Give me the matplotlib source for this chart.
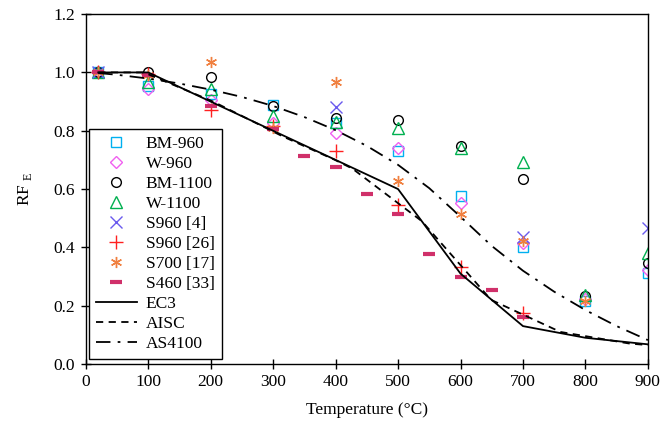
import numpy as np
import matplotlib
matplotlib.use("Agg")
import matplotlib.pyplot as plt

plt.rcParams['font.family'] = ['Liberation Serif', 'DejaVu Serif']
plt.rcParams['mathtext.fontset'] = 'custom'
plt.rcParams['mathtext.rm'] = 'Liberation Serif'

# test temperatures (deg C)
temps = [20, 100, 200, 300, 400, 500, 600, 700, 800, 900]

# reduction factors of elastic modulus for each test series
bm960 = [1.0, 0.954, 0.925, 0.888, 0.825, 0.730, 0.576, 0.402, 0.216, 0.311]
w960 = [1.0, 0.943, 0.905, 0.825, 0.791, 0.742, 0.553, 0.414, 0.222, 0.322]
bm1100 = [1.0, 1.0, 0.985, 0.884, 0.845, 0.838, 0.747, 0.634, 0.233, 0.347]
w1100 = [1.0, 0.968, 0.942, 0.850, 0.831, 0.808, 0.742, 0.694, 0.237, 0.382]

s960_4_t = [20, 400, 700, 900]
s960_4 = [1.0, 0.882, 0.436, 0.466]

s960_26_t = [20, 100, 200, 300, 400, 500, 600, 700]
s960_26 = [1.0, 0.993, 0.870, 0.815, 0.730, 0.547, 0.334, 0.176]

s700_t = [20, 100, 200, 300, 400, 500, 600, 700, 800]
s700 = [1.0, 0.99, 1.036, 0.81, 0.968, 0.628, 0.514, 0.423, 0.217]

s460_t = [20, 100, 200, 300, 350, 400, 450, 500, 550, 600, 650, 700]
s460 = [1.0, 0.99, 0.885, 0.805, 0.714, 0.674, 0.582, 0.514, 0.379, 0.299, 0.254, 0.160]

# design code curves
ec3_t = [20, 100, 200, 300, 400, 500, 600, 700, 800, 900]
ec3 = [1.0, 1.0, 0.9, 0.8, 0.7, 0.6, 0.31, 0.13, 0.09, 0.0675]

aisc_t = [20, 93, 204, 316, 399, 427, 538, 649, 760, 871, 900]
aisc = [1.0, 1.0, 0.9, 0.78, 0.70, 0.67, 0.49, 0.22, 0.11, 0.07, 0.065]

as4100_t = [20, 50, 100, 150, 200, 250, 300, 350, 400, 450, 500, 550,
            600, 650, 700, 750, 800, 850, 900]
as4100 = [0.998, 0.992, 0.979, 0.962, 0.941, 0.916, 0.885, 0.847, 0.802,
          0.748, 0.683, 0.603, 0.505, 0.405, 0.320, 0.248, 0.185, 0.130, 0.082]

fig = plt.figure(figsize=(6.7, 4.28), dpi=100)
ax = fig.add_axes([0.128, 0.1495, 0.839, 0.8175])

mk = dict(linestyle='none', fillstyle='none', markeredgewidth=1.0)
ax.plot(temps, bm960, marker='s', color='#00b0f0', markersize=7, label='BM-960', **mk)
ax.plot(temps, w960, marker='D', color='#f060f0', markersize=6, label='W-960', **mk)
ax.plot(temps, bm1100, marker='o', color='black', markersize=7, label='BM-1100', **mk)
ax.plot(temps, w1100, marker='^', color='#00b050', markersize=8, label='W-1100', **mk)
ax.plot(s960_4_t, s960_4, marker='x', color='#6a5aee', markersize=8, label='S960 [4]', **mk)
ax.plot(s960_26_t, s960_26, marker='+', color='#ff2020', markersize=10, label='S960 [26]', **mk)
ax.plot(s700_t, s700, marker=(6, 2, 0), color='#f08040', markersize=8, label='S700 [17]', **mk)
ax.plot(s460_t, s460, marker='_', color='#d0306a', markersize=8, label='S460 [33]',
        linestyle='none', markeredgewidth=3.0)

ax.plot(ec3_t, ec3, color='black', linewidth=1.3, label='EC3')
ax.plot(aisc_t, aisc, color='black', linewidth=1.3, linestyle=(0, (4, 3)), label='AISC')
ax.plot(as4100_t, as4100, color='black', linewidth=1.3, linestyle=(0, (8, 4, 1.5, 4)), label='AS4100')

ax.set_xlim(0, 900)
ax.set_ylim(0, 1.2)
ax.set_xticks(np.arange(0, 901, 100))
ax.set_yticks(np.arange(0, 1.21, 0.2))
ax.set_yticklabels(['%.1f' % v for v in np.arange(0, 1.21, 0.2)])
ax.tick_params(direction='inout', length=7, width=1, labelsize=12.5, pad=4)
for s in ax.spines.values():
    s.set_linewidth(1)

ax.set_xlabel('Temperature (°C)', fontsize=12.5, labelpad=8)
ax.set_ylabel('RF $_{\\rm E}$', fontsize=12.5, labelpad=14)

leg = ax.legend(loc='lower left', bbox_to_anchor=(0.005, 0.015), fontsize=12.5,
                frameon=True, fancybox=False, edgecolor='black', framealpha=1,
                handlelength=2.4, handletextpad=0.5, borderpad=0.4, labelspacing=0.22,
                borderaxespad=0)
leg.get_frame().set_linewidth(1)

fig.savefig('out.png', dpi=100)
